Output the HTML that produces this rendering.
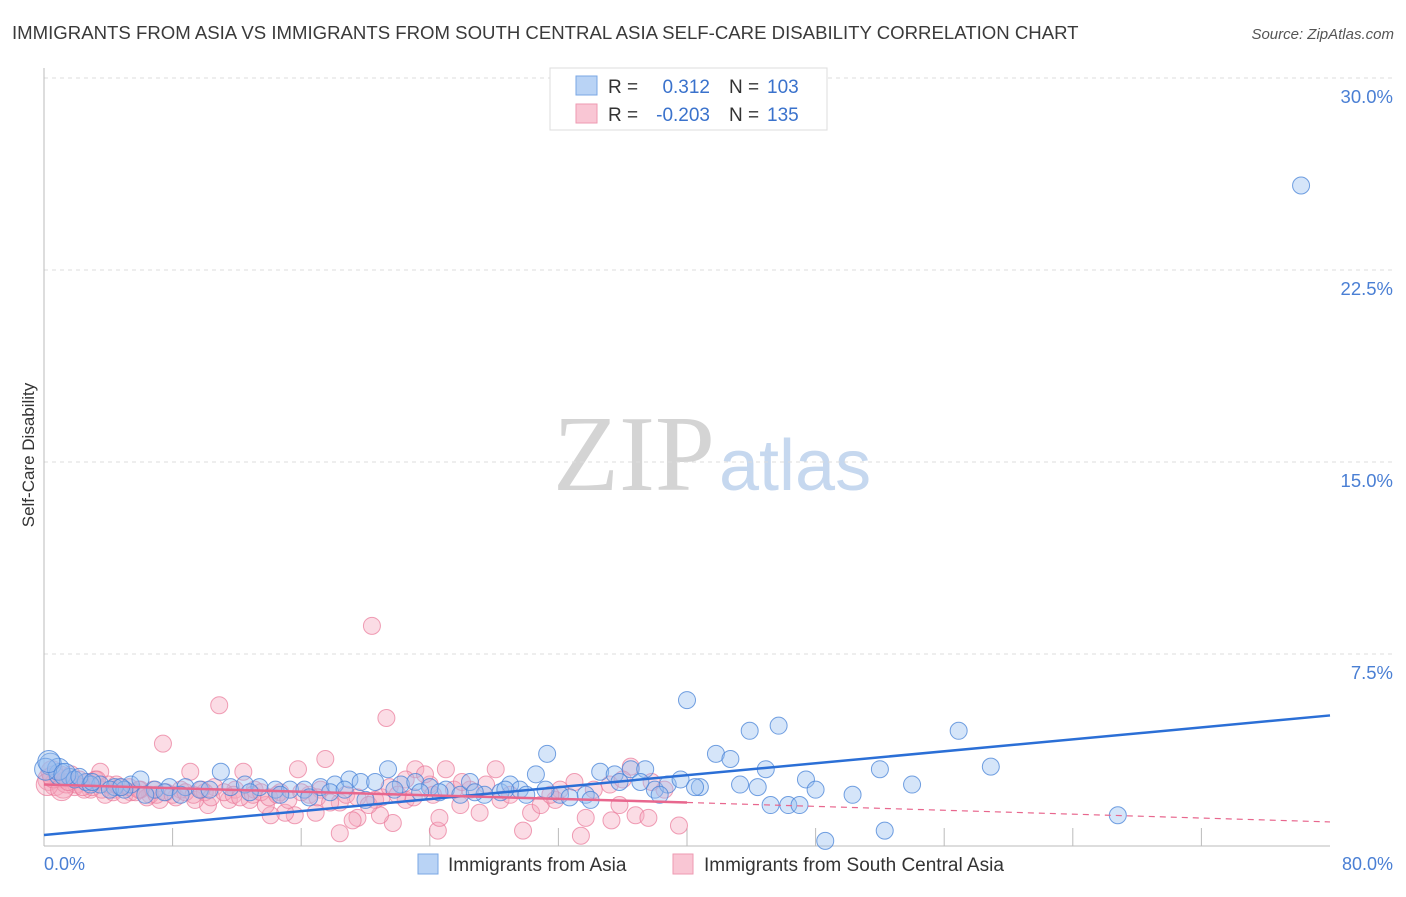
<!DOCTYPE html>
<html><head><meta charset="utf-8"><style>
body{margin:0;background:#fff;font-family:"Liberation Sans",sans-serif}
svg text{font-family:"Liberation Sans",sans-serif}
</style></head><body>
<svg id="chart" width="1406" height="892" viewBox="0 0 1406 892">
<text x="12" y="39" font-size="18.6" fill="#3a3a3a">IMMIGRANTS FROM ASIA VS IMMIGRANTS FROM SOUTH CENTRAL ASIA SELF-CARE DISABILITY CORRELATION CHART</text>
<text x="1394" y="39" font-size="15" fill="#555" font-style="italic" text-anchor="end">Source: ZipAtlas.com</text>
<g>
<text x="553" y="490" font-size="108" fill="#d4d4d4" font-family="Liberation Serif" style="font-family:'Liberation Serif',serif">ZIP</text>
<text x="719" y="490" font-size="72" fill="#c6d8ef">atlas</text>
</g>
<g id="grid"></g>
<g id="axes"></g>
<g id="marks"></g>
<g id="trends"></g>
<text transform="translate(34,455) rotate(-90)" font-size="17" fill="#333" text-anchor="middle">Self-Care Disability</text>
<g>
<rect x="550" y="68" width="277" height="62" fill="#fff" stroke="#ddd"/>
<rect x="576" y="76" width="21" height="19" fill="#b9d3f5" stroke="#7aa7e4"/>
<rect x="576" y="104" width="21" height="19" fill="#f9c6d4" stroke="#ee9ab2"/>
<text x="608" y="93" font-size="19" fill="#333">R =</text>
<text x="710" y="93" font-size="19" fill="#3a72cc" text-anchor="end">0.312</text>
<text x="729" y="93" font-size="19" fill="#333">N =</text>
<text x="767" y="93" font-size="19" fill="#3a72cc">103</text>
<text x="608" y="121" font-size="19" fill="#333">R =</text>
<text x="710" y="121" font-size="19" fill="#3a72cc" text-anchor="end">-0.203</text>
<text x="729" y="121" font-size="19" fill="#333">N =</text>
<text x="767" y="121" font-size="19" fill="#3a72cc">135</text>
</g>
<g>
<rect x="418" y="854" width="20" height="20" fill="#b9d3f5" stroke="#7aa7e4"/>
<text x="448" y="871" font-size="19" fill="#333">Immigrants from Asia</text>
<rect x="673" y="854" width="20" height="20" fill="#f9c6d4" stroke="#ee9ab2"/>
<text x="704" y="871" font-size="19" fill="#333">Immigrants from South Central Asia</text>
</g>
</svg>
<script>
const yTicks=[7.5,15,22.5,30];
const yTickLabels=["7.5%","15.0%","22.5%","30.0%"];
const xTicks=[8,16,24,32,40,48,56,64,72];
const xEndLabels=["0.0%","80.0%"];
const asiaX=[0.4,1.0,1.6,2.6,3.5,4.4,5.4,6.0,6.9,7.8,8.8,9.7,11.0,11.6,12.5,13.4,14.4,15.3,16.2,17.2,18.1,19.0,19.7,20.6,21.4,22.2,23.1,24.0,25.0,25.9,26.5,27.4,28.4,29.0,29.6,30.6,31.3,32.1,32.7,33.7,34.6,35.5,36.5,37.4,38.0,38.8,39.6,40.0,40.8,41.8,42.7,43.3,43.9,44.4,44.9,45.2,45.7,46.3,47.0,47.4,48.0,48.6,50.3,52.0,52.3,54.0,56.9,58.9,66.8,78.2,0.9,1.9,2.9,4.1,5.0,6.3,7.5,8.5,10.3,12.8,14.7,16.5,17.8,18.7,20.0,21.8,23.4,24.6,26.8,28.7,30.0,31.2,34.0,35.8,37.1,38.3,40.5,0.1,0.3,1.3,2.2,3.0,4.8];
const asiaY=[3.2,2.8,2.7,2.5,2.4,2.3,2.4,2.6,2.2,2.3,2.3,2.2,2.9,2.3,2.4,2.3,2.2,2.2,2.2,2.3,2.4,2.6,2.5,2.5,3.0,2.4,2.5,2.3,2.2,2.0,2.5,2.0,2.1,2.4,2.2,2.8,3.6,2.0,1.9,2.0,2.9,2.8,3.0,3.0,2.2,2.4,2.6,5.7,2.3,3.6,3.4,2.4,4.5,2.3,3.0,1.6,4.7,1.6,1.6,2.6,2.2,0.2,2.0,3.0,0.6,2.4,4.5,3.1,1.2,25.8,3.0,2.6,2.4,2.2,2.2,2.0,2.1,2.0,2.2,2.1,2.0,1.9,2.1,2.2,1.8,2.2,2.1,2.1,2.1,2.2,2.0,2.2,1.8,2.5,2.5,2.0,2.3,3.0,3.3,2.8,2.7,2.5,2.3];
const scaX=[10.9,21.3,7.4,20.4,17.5,15.8,23.1,25.0,28.1,36.5,12.4,3.5,9.1,18.4,24.5,29.8,33.4,39.5,35.3,36.8,37.6,33.7,30.3,27.1,24.6,21.7,20.9,19.5,19.2,16.9,15.6,15.0,14.1,13.8,12.8,11.5,10.2,9.4,8.2,7.2,18.4,20.6,22.5,25.9,28.4,30.9,31.8,35.8,38.6,32.1,33.0,35.2,26.5,24.0,23.7,22.5,17.2,16.5,14.7,13.1,11.9,10.6,10.0,8.5,6.6,5.4,4.4,3.8,2.9,1.9,0.3,0.5,0.7,1.0,1.2,1.4,1.7,2.0,2.2,2.5,2.7,3.0,3.2,3.6,4.0,4.3,4.7,5.0,5.3,5.7,6.0,6.4,6.8,7.0,7.6,8.0,8.8,9.3,9.8,10.4,11.2,11.8,12.2,13.0,13.5,14.0,14.5,15.2,16.0,17.0,17.8,18.8,19.5,20.2,21.0,21.5,22.0,23.0,24.2,25.5,26.0,27.5,29.0,31.5,34.2,36.0,37.8,0.2,0.6,1.1,1.5,2.4,3.3,4.5,5.9];
const scaY=[5.5,5.0,4.0,8.6,3.4,3.0,3.0,3.0,3.0,3.1,2.9,2.9,2.9,0.5,0.6,0.6,0.4,0.8,1.0,1.2,1.1,1.1,1.3,1.3,1.1,0.9,1.2,1.1,1.0,1.3,1.2,1.3,1.2,1.6,1.8,1.8,1.6,1.8,1.9,1.8,1.7,1.8,1.8,1.6,1.8,1.6,1.8,1.6,2.2,2.2,2.5,2.4,2.2,2.4,2.8,2.6,2.2,2.0,2.1,2.2,2.2,2.3,2.1,2.2,2.0,2.1,2.2,2.0,2.2,2.3,2.6,2.9,2.4,2.7,2.3,2.5,2.8,2.4,2.6,2.2,2.5,2.3,2.6,2.2,2.4,2.1,2.3,2.0,2.3,2.1,2.2,1.9,2.2,2.0,2.1,2.0,2.1,2.0,2.2,1.9,2.1,2.0,1.9,2.0,2.1,1.9,2.0,1.8,2.1,1.9,1.7,2.0,1.9,1.6,1.9,2.3,2.0,1.9,2.0,2.2,2.5,2.4,2.0,2.0,2.2,2.6,2.5,2.4,2.7,2.2,2.5,2.3,2.6,2.4,2.2];
const asiaTrendX=[0,80];
const asiaTrendY=[0.43,5.1];
const scaTrendX=[0,40,80];
const scaTrendY=[2.4,1.7,0.94];

const X0=44,X1=1330,Y0=846,PXY=25.6;
function sx(v){return X0+v*(X1-X0)/80;}
function sy(v){return Y0-v*PXY;}
const NS='http://www.w3.org/2000/svg';
function mk(tag,attrs,parent){const e=document.createElementNS(NS,tag);for(const k in attrs)e.setAttribute(k,attrs[k]);parent.appendChild(e);return e;}
const grid=document.getElementById('grid'),axes=document.getElementById('axes'),marks=document.getElementById('marks'),trends=document.getElementById('trends');
yTicks.forEach((t,i)=>{
  const l=mk('line',{x1:X0,x2:1393,y1:sy(t),y2:sy(t),stroke:'#dcdcdc','stroke-dasharray':'4,4'},grid);
  
  
  const tx=mk('text',{x:1393,y:sy(t)+25,'font-size':18.5,fill:'#4a7fd4','text-anchor':'end'},grid);
  tx.textContent=yTickLabels[i];
  
  
});
const ya=mk('line',{x1:X0,x2:X0,y1:68,y2:Y0,stroke:'#bbb'},axes);


const xa=mk('line',{x1:X0,x2:X1,y1:Y0,y2:Y0,stroke:'#bbb'},axes);


xTicks.forEach(t=>{
  const l=mk('line',{x1:sx(t),x2:sx(t),y1:Y0-18,y2:Y0,stroke:'#bbb'},axes);
  
  
});
const xl0=mk('text',{x:X0,y:870,'font-size':18,fill:'#4a7fd4'},axes);xl0.textContent=xEndLabels[0];


const xl1=mk('text',{x:1393,y:870,'font-size':18,fill:'#4a7fd4','text-anchor':'end'},axes);xl1.textContent=xEndLabels[1];


function dots(xs,ys,fill,stroke,name){
  xs.forEach((x,i)=>{
    const c=mk('circle',{cx:sx(x),cy:sy(ys[i]),r:(x<1.5?11:8.5),fill:fill,stroke:stroke,'stroke-width':1},marks);
    
    
  });
}
dots(scaX,scaY,'rgba(246,168,190,0.4)','rgba(233,120,152,0.7)','point-south-central-asia');
dots(asiaX,asiaY,'rgba(150,190,240,0.4)','rgba(70,130,215,0.75)','point-asia');
const bl=mk('line',{x1:sx(asiaTrendX[0]),y1:sy(asiaTrendY[0]),x2:sx(asiaTrendX[1]),y2:sy(asiaTrendY[1]),stroke:'#2b6fd6','stroke-width':2.5},trends);


const pl=mk('line',{x1:sx(scaTrendX[0]),y1:sy(scaTrendY[0]),x2:sx(scaTrendX[1]),y2:sy(scaTrendY[1]),stroke:'#e8678e','stroke-width':2.5},trends);


const pd=mk('line',{x1:sx(scaTrendX[1]),y1:sy(scaTrendY[1]),x2:sx(scaTrendX[2]),y2:sy(scaTrendY[2]),stroke:'#e8678e','stroke-width':1.2,'stroke-dasharray':'6,5'},trends);


</script>
</body></html>
